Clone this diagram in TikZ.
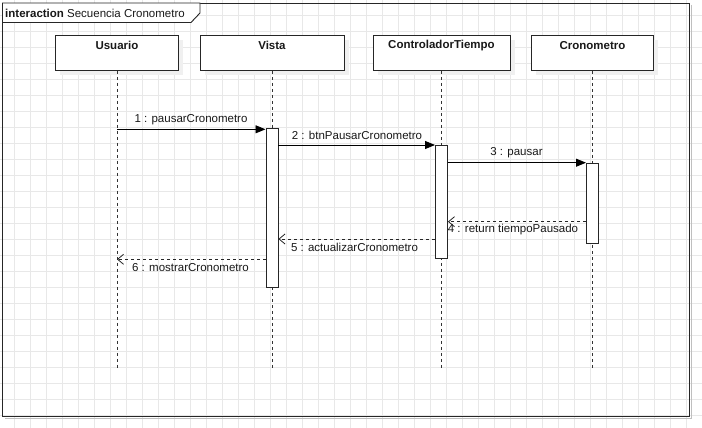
\documentclass[tikz,border=0pt]{standalone}
\usepackage{fontspec}
\setmainfont{Liberation Sans}
\usetikzlibrary{arrows.meta,shadows}
\begin{document}
\begin{tikzpicture}[x=1pt,y=-1pt,
  every node/.style={font=\fontsize{11.5}{13}\selectfont, inner sep=0pt, text=black!90},
  gridline/.style={draw=black!9, line width=0.8pt},
  headbox/.style={draw=black!85, fill=white, line width=0.9pt, anchor=north west,
    drop shadow={shadow xshift=5pt, shadow yshift=-5pt, fill=black!6, opacity=1}},
  headtxt/.style={font=\fontsize{11.5}{13}\selectfont\bfseries},
  actbox/.style={draw=black!85, fill=white, line width=0.9pt, minimum width=12pt, anchor=north},
  lifeline/.style={draw=black!80, line width=0.9pt, dash pattern=on 3pt off 3pt},
  callmsg/.style={draw=black, line width=0.9pt, -{Triangle[length=10pt,width=8pt]}},
  retmsg/.style={draw=black!85, line width=0.9pt, dash pattern=on 3pt off 3pt,
    -{Straight Barb[length=6pt,width=10pt,line width=0.8pt]}},
  msglbl/.style={anchor=center},
]
\useasboundingbox (0,0) rectangle (702,428);
\fill[white] (0,0) rectangle (702,428);

% background grid
\begin{scope}
  \clip (0,0) rectangle (702,428);
  \foreach \gx in {0,...,43} \draw[gridline] (14.3+16*\gx,0) -- (14.3+16*\gx,428);
  \foreach \gy in {0,...,26} \draw[gridline] (0,15.7+16*\gy) -- (702,15.7+16*\gy);
\end{scope}

% interaction frame
\draw[black!25, line width=1pt] (691,5) -- (691,418) -- (5,418);
\draw[black!85, line width=0.9pt] (2.5,3) rectangle (689,416);
\draw[black!85, line width=0.9pt, fill=white] (2.5,3) -- (200,3) -- (200,13) -- (191,22.5) -- (2.5,22.5) -- cycle;
\node[anchor=west] (title) at (5,13) {\textbf{interaction} Secuencia Cronometro};

% lifeline heads
\node[headbox, minimum width=123pt, minimum height=35pt] (hU) at (55,35) {};
\node[headbox, minimum width=144pt, minimum height=35pt] (hV) at (199.5,35) {};
\node[headbox, minimum width=137pt, minimum height=35pt] (hC) at (372.5,35) {};
\node[headbox, minimum width=122pt, minimum height=35pt] (hK) at (531,35) {};
\node[headtxt] (tU) at ([yshift=-10.5pt]hU.north) {Usuario};
\node[headtxt] (tV) at ([yshift=-10.5pt]hV.north) {Vista};
\node[headtxt] (tC) at ([yshift=-10.5pt]hC.north) {ControladorTiempo};
\node[headtxt] (tK) at ([yshift=-10.5pt]hK.north) {Cronometro};

% lifeline ends
\coordinate (eU) at (hU.south |- 0,370);
\coordinate (eV) at (hV.south |- 0,370);
\coordinate (eC) at (hC.south |- 0,370);
\coordinate (eK) at (hK.south |- 0,370);
\draw[lifeline] (hU.south) -- (eU);
\draw[lifeline] (hV.south) -- (eV);
\draw[lifeline] (hC.south) -- (eC);
\draw[lifeline] (hK.south) -- (eK);

% activation bars
\node[actbox, minimum height=159pt] (aV) at (hV.south |- 0,128) {};
\node[actbox, minimum height=112.7pt] (aC) at (hC.south |- 0,145) {};
\node[actbox, minimum height=80.3pt] (aK) at (hK.south |- 0,162.7) {};

% message rows
\coordinate (m1) at (0,129.3);
\coordinate (m2) at (0,145);
\coordinate (m3) at (0,162.7);
\coordinate (m4) at (0,221.7);
\coordinate (m5) at (0,239);
\coordinate (m6) at (0,259.3);

\draw[callmsg] (hU.south |- m1) -- (aV.west |- m1);
\draw[callmsg] (aV.east |- m2) -- (aC.west |- m2);
\draw[callmsg] (aC.east |- m3) -- (aK.west |- m3);
\draw[retmsg] (aK.west |- m4) -- (aC.east |- m4);
\draw[retmsg] (aC.west |- m5) -- (aV.east |- m5);
\draw[retmsg] (aV.west |- m6) -- (hU.south |- m6);

% message labels
\node[msglbl] (l1) at (191,120) {1 : pausarCronometro};
\node[msglbl] (l2) at (357,135.7) {2 : btnPausarCronometro};
\node[msglbl] (l3) at (516.5,152.7) {3 : pausar};
\node[msglbl] (l4) at (513,229.3) {4 : return tiempoPausado};
\node[msglbl] (l5) at (354.5,247.3) {5 : actualizarCronometro};
\node[msglbl] (l6) at (190.5,267.7) {6 : mostrarCronometro};
\end{tikzpicture}
\end{document}
